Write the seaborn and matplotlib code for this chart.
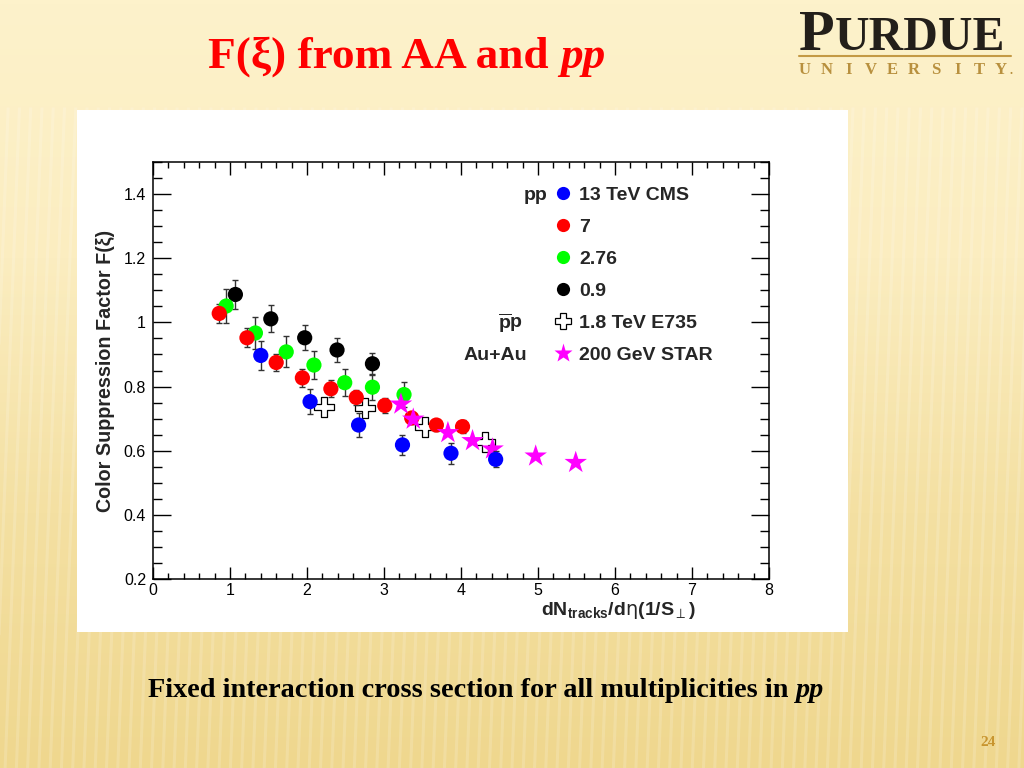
import matplotlib
matplotlib.use("Agg")
import numpy as np
import pandas as pd
import seaborn as sns
from matplotlib import pyplot as plt
from matplotlib.colors import LinearSegmentedColormap
from matplotlib.lines import Line2D
from matplotlib.patches import Rectangle
from matplotlib.collections import LineCollection
from matplotlib.ticker import MultipleLocator

# pp 13 TeV CMS
cms13_x = [1.40, 2.04, 2.67, 3.24, 3.87, 4.45]
cms13_y = [0.897, 0.753, 0.680, 0.618, 0.592, 0.573]
cms13_err = [0.045, 0.038, 0.038, 0.031, 0.032, 0.025]

# pp 7 TeV
cms7_x = [0.86, 1.22, 1.60, 1.94, 2.31, 2.64, 3.01, 3.36, 3.68, 4.02]
cms7_y = [1.028, 0.952, 0.875, 0.827, 0.793, 0.766, 0.741, 0.702, 0.680, 0.675]
cms7_err = [0.030, 0.029, 0.027, 0.027, 0.026, 0.023, 0.023, 0.020, 0.020, 0.020]

# pp 2.76 TeV
cms276_x = [0.95, 1.33, 1.73, 2.09, 2.49, 2.85, 3.26]
cms276_y = [1.051, 0.967, 0.908, 0.867, 0.812, 0.798, 0.775]
cms276_err = [0.052, 0.049, 0.048, 0.044, 0.043, 0.040, 0.040]

# pp 0.9 TeV
cms09_x = [1.07, 1.53, 1.97, 2.39, 2.85]
cms09_y = [1.087, 1.011, 0.952, 0.914, 0.871]
cms09_err = [0.046, 0.042, 0.039, 0.037, 0.035]

# ppbar 1.8 TeV E735
e735_x = [2.22, 2.75, 3.53, 4.31]
e735_y = [0.737, 0.732, 0.675, 0.626]

# Au+Au 200 GeV STAR
star_x = [3.22, 3.38, 3.83, 4.15, 4.41, 4.97, 5.49]
star_y = [0.745, 0.698, 0.656, 0.631, 0.605, 0.583, 0.563]

legend_labels = ["13 TeV CMS", "7", "2.76", "0.9", "1.8 TeV E735", "200 GeV STAR"]
# legend row -> (group label, right edge in axes fraction)
group_labels = {0: ("pp", 0.640), 4: (r"$\mathbf{\overline{p}p}$", 0.601), 5: ("Au+Au", 0.607)}
x_ticks = [0, 1, 2, 3, 4, 5, 6, 7, 8]
y_ticks = [0.2, 0.4, 0.6, 0.8, 1.0, 1.2, 1.4]
y_ticklabels = ["0.2", "0.4", "0.6", "0.8", "1", "1.2", "1.4"]

sns.set_style("ticks")
plt.rcParams["font.family"] = ["Liberation Sans", "DejaVu Sans"]
plt.rcParams["mathtext.fontset"] = "custom"
plt.rcParams["mathtext.rm"] = "DejaVu Sans"
plt.rcParams["mathtext.bf"] = "Liberation Sans:bold"
plt.rcParams["mathtext.it"] = "Liberation Sans:italic"

W, H = 1024, 768
fig = plt.figure(figsize=(W / 100, H / 100), dpi=100)

# slide background
bg = fig.add_axes([0, 0, 1, 1], zorder=-10)
grad = np.linspace(0, 1, 256).reshape(-1, 1)
cmap = LinearSegmentedColormap.from_list("slide", ["#fdf2cb", "#fbedc0", "#f4e0a2", "#efd78e"])
bg.imshow(grad, extent=[0, 1, 0, 1], aspect="auto", cmap=cmap)
xs = np.arange(-0.05, 1.05, 0.011)
segs = [[(x0, 0.0), (x0 + 0.025, 0.86)] for x0 in xs]
bg.add_collection(LineCollection(segs, colors="white", linewidths=2.2, alpha=0.16))
bg.add_patch(Rectangle((77 / W, 1 - 632 / H), (848 - 77) / W, (632 - 110) / H,
                       facecolor="white", edgecolor="none", zorder=5))
bg.set_xlim(0, 1)
bg.set_ylim(0, 1)
bg.axis("off")

# title
t1 = fig.text(208 / W, 1 - 68 / H, "F(ξ) from AA and ", color="#ff0000",
              fontsize=32.6, fontweight="bold", family="Liberation Serif", va="baseline")
fig.canvas.draw()
bb = t1.get_window_extent()
fig.text(bb.x1 / W, 1 - 68 / H, "pp", color="#ff0000", fontsize=32.6, fontweight="bold",
         fontstyle="italic", family="Liberation Serif", va="baseline")

# Purdue logo
fig.text(799 / W, 1 - 50 / H, "P", color="#231f1a", fontsize=42, fontweight="bold",
         family="Liberation Serif", va="baseline")
fig.text(835 / W, 1 - 50 / H, "URDUE", color="#231f1a", fontsize=34.5, fontweight="bold",
         family="Liberation Serif", va="baseline")
fig.add_artist(Line2D([799 / W, 1011 / W], [1 - 56 / H, 1 - 56 / H], color="#c49a45", lw=1.5))
for i, ch in enumerate("UNIVERSITY"):
    fig.text((805 + i * 21.8) / W, 1 - 74 / H, ch, color="#b8903e", fontsize=12,
             fontweight="bold", family="Liberation Serif", ha="center", va="baseline")
fig.text(1009 / W, 1 - 74 / H, ".", color="#b8903e", fontsize=9, fontweight="bold",
         family="Liberation Serif", va="baseline")

# bottom text
b1 = fig.text(148 / W, 1 - 697 / H, "Fixed interaction cross section for all multiplicities in ",
              color="black", fontsize=20.3, fontweight="bold", family="Liberation Serif",
              va="baseline")
fig.canvas.draw()
bb = b1.get_window_extent()
fig.text(bb.x1 / W, 1 - 697 / H, "pp", color="black", fontsize=20.3, fontweight="bold",
         fontstyle="italic", family="Liberation Serif", va="baseline")
fig.text(988 / W, 1 - 746 / H, "24", color="#c8952f", fontsize=11, fontweight="bold",
         family="Liberation Serif", ha="center", va="baseline")

# main plot
ax = fig.add_axes([153 / W, 1 - 579 / H, (769 - 153) / W, (579 - 162) / H], zorder=2)
ax.set_facecolor("white")

sns.scatterplot(x=e735_x, y=e735_y, ax=ax, marker="P", s=190, facecolor="white",
                edgecolor="black", linewidth=0.9, zorder=3, legend=False)

circle_series = [
    (cms09_x, cms09_y, cms09_err, "#000000"),
    (cms276_x, cms276_y, cms276_err, "#00ff00"),
    (cms7_x, cms7_y, cms7_err, "#ff0000"),
]
for sx, sy, se, col in circle_series:
    ax.errorbar(sx, sy, yerr=se, fmt="none", ecolor="#333333", elinewidth=1,
                capsize=2.5, capthick=1, zorder=3)
    sns.scatterplot(x=sx, y=sy, ax=ax, marker="o", s=120, color=col, edgecolor="none",
                    zorder=4, legend=False)

sns.scatterplot(x=star_x, y=star_y, ax=ax, marker="*", s=290, color="#ff00ff",
                edgecolor="none", zorder=5, legend=False)

ax.errorbar(cms13_x, cms13_y, yerr=cms13_err, fmt="none", ecolor="#333333", elinewidth=1,
            capsize=2.5, capthick=1, zorder=5)
sns.scatterplot(x=cms13_x, y=cms13_y, ax=ax, marker="o", s=120, color="#0000ff",
                edgecolor="none", zorder=6, legend=False)

ax.set_xlim(0, 8)
ax.set_ylim(0.2, 1.5)
ax.set_xticks(x_ticks)
ax.set_xticklabels([str(t) for t in x_ticks])
ax.set_yticks(y_ticks)
ax.set_yticklabels(y_ticklabels)
ax.xaxis.set_minor_locator(MultipleLocator(0.2))
ax.yaxis.set_minor_locator(MultipleLocator(0.05))
ax.tick_params(which="both", direction="in", top=True, right=True, width=1,
               colors="black", labelsize=11.5)
ax.tick_params(axis="x", which="major", length=9, pad=3)
ax.tick_params(axis="x", which="minor", length=4.5)
ax.tick_params(axis="y", which="major", length=13, pad=5)
ax.tick_params(axis="y", which="minor", length=6.5)
for sp in ax.spines.values():
    sp.set_visible(True)
    sp.set_linewidth(1.1)
    sp.set_color("black")

ax.set_xlabel(r"$\mathbf{dN_{tracks}/d}\mathrm{\eta}\mathbf{(1/S_{\mathrm{\perp}})}$", fontsize=14)
ax.xaxis.set_label_coords(0.756, -0.05)
ax.set_ylabel("Color Suppression Factor F(ξ)", fontsize=14.2, fontweight="bold")
ax.yaxis.set_label_coords(-0.062, 0.5)

handles = [
    Line2D([], [], linestyle="", marker="o", markersize=9.5, color="#0000ff", mec="none"),
    Line2D([], [], linestyle="", marker="o", markersize=9.5, color="#ff0000", mec="none"),
    Line2D([], [], linestyle="", marker="o", markersize=9.5, color="#00ff00", mec="none"),
    Line2D([], [], linestyle="", marker="o", markersize=9.5, color="#000000", mec="none"),
    Line2D([], [], linestyle="", marker="P", markersize=12, mfc="white", mec="black", mew=0.9),
    Line2D([], [], linestyle="", marker="*", markersize=14, color="#ff00ff", mec="none"),
]
leg = ax.legend(handles, legend_labels, loc="upper left", bbox_to_anchor=(0.649, 0.942),
                frameon=False, borderpad=0, borderaxespad=0, handlelength=1,
                handletextpad=0.35, labelspacing=0.74,
                prop={"weight": "bold", "size": 14, "family": "Liberation Sans"})

fig.canvas.draw()
inv = ax.transAxes.inverted()
for idx, (lab, xr) in group_labels.items():
    tb = leg.get_texts()[idx].get_window_extent()
    yc = inv.transform((0, (tb.y0 + tb.y1) / 2))[1]
    ax.text(xr, yc, lab, transform=ax.transAxes, ha="right", va="center",
            fontsize=14, fontweight="bold")

fig.savefig("out.png", dpi=100)
